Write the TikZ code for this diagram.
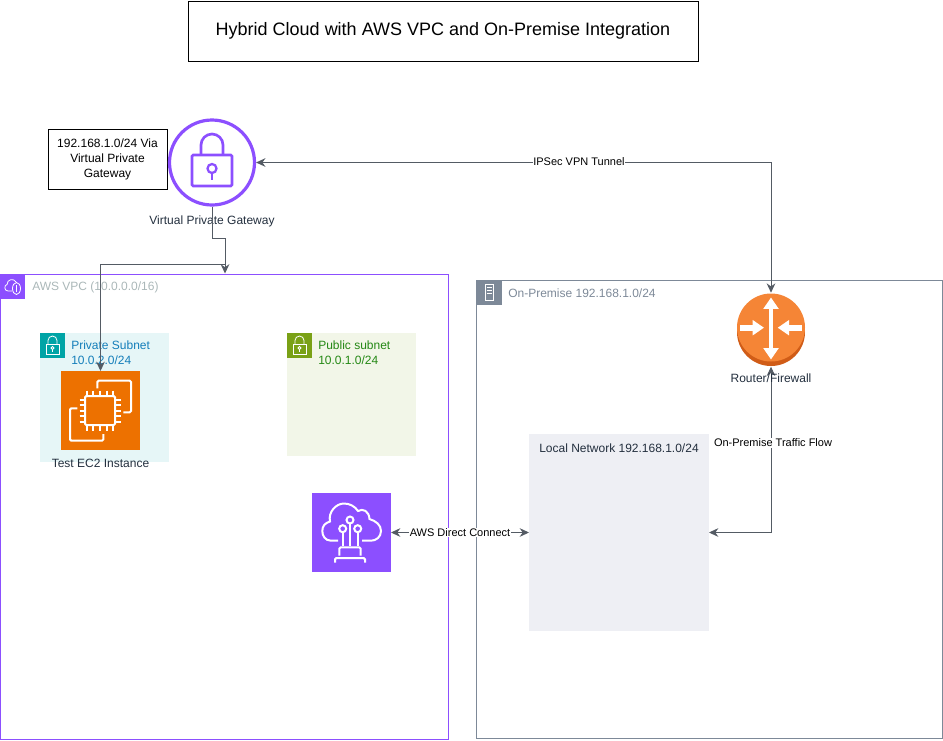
\documentclass[tikz,border=0pt]{standalone}
\usepackage{fontspec}
\setmainfont{Liberation Sans}
\usetikzlibrary{arrows.meta}
\definecolor{awspurple}{HTML}{8C4FFF}
\definecolor{awsink}{HTML}{232F3E}
\definecolor{linkgray}{HTML}{545B64}
\definecolor{vpctext}{HTML}{AAB7B8}
\definecolor{premgray}{HTML}{7D8998}
\definecolor{privfill}{HTML}{E6F6F7}
\definecolor{pubfill}{HTML}{F2F6E8}
\definecolor{localfill}{HTML}{EEEFF4}
\definecolor{ecorange}{HTML}{ED7100}
\definecolor{privteal}{HTML}{00A4A6}
\definecolor{privtext}{HTML}{147EBA}
\definecolor{pubgreen}{HTML}{7AA116}
\definecolor{pubtext}{HTML}{248814}
\definecolor{routerlight}{HTML}{F58536}
\definecolor{routerdark}{HTML}{D05C17}
\tikzset{
  sized/.style 2 args={minimum width=#1*0.75pt, minimum height=#2*0.75pt, inner sep=0pt, outer sep=0pt},
  textbox/.style={draw=black, line width=0.75pt, align=center, font=\fontsize{9pt}{11.25pt}\selectfont},
  lbl/.style={font=\fontsize{9pt}{11.25pt}\selectfont, text=awsink, align=left, inner sep=0pt},
  edgelbl/.style={font=\fontsize{8.25pt}{10pt}\selectfont, text=black, fill=white, inner sep=0.4pt},
  link/.style={draw=linkgray, line width=0.75pt, -{Stealth[length=7pt,width=6.5pt]}},
  duallink/.style={link, {Stealth[length=7pt,width=6.5pt]}-{Stealth[length=7pt,width=6.5pt]}},
  glyph/.style={draw=white, line width=1.5pt, rounded corners=1pt},
  smallglyph/.style={draw=white, line width=0.6pt},
  routerarrow/.style={draw=white, {Triangle[length=8.5pt,width=11pt]}-{Triangle[length=8.5pt,width=11pt]}},
  routerpush/.style={draw=white, -{Triangle[length=8.5pt,width=11pt]}}
}
\begin{document}
\begin{tikzpicture}[x=0.75pt, y=-0.75pt]
  \useasboundingbox (0, 0) rectangle (943, 740);
  % title and note
  \node (title) [textbox, sized={510}{60}, font=\fontsize{13.5pt}{16pt}\selectfont] at (443, 31) {Hybrid Cloud with AWS VPC and On-Premise Integration};
  \node (note) [textbox, sized={119}{60}] at (107.5, 159) {192.168.1.0/24 Via\\Virtual Private\\Gateway};
  % groups
  \node (vpc) [draw=awspurple, line width=0.75pt, sized={448}{465}] at (224.5, 506.5) {};
  \node (onprem) [draw=premgray, line width=0.75pt, sized={465.5}{458}] at (709.5, 509) {};
  \node (vpcicon) [fill=awspurple, sized={25}{25}] at (12.5, 286.5) {};
  \node (onpremicon) [fill=premgray, sized={25}{25}] at (489, 292) {};
  \node (vpclabel) [lbl, text=vpctext, anchor=west] at (32, 287) {AWS VPC (10.0.0.0/16)};
  \node (onpremlabel) [lbl, text=premgray, anchor=west] at (508, 293) {On-Premise 192.168.1.0/24};
  \node (privsubnet) [fill=privfill, sized={129}{129}] at (104.5, 397.5) {};
  \node (pubsubnet) [fill=pubfill, sized={129}{123}] at (351.5, 394.5) {};
  \node (localnet) [fill=localfill, sized={180}{197}] at (619, 532.5) {};
  \node (localabel) [lbl, anchor=west] at (539, 448) {Local Network 192.168.1.0/24};
  \node (privicon) [fill=privteal, sized={25}{25}] at (52.5, 345) {};
  \node (pubicon) [fill=pubgreen, sized={25}{25}] at (299.5, 345) {};
  \node (privlabel) [lbl, text=privtext, anchor=west] at (71, 352.5) {Private Subnet\\10.0.2.0/24};
  \node (publabel) [lbl, text=pubtext, anchor=west] at (318, 352.5) {Public subnet\\10.0.1.0/24};
  % small icons
  \foreach \ix in {40, 287} {
    \begin{scope}[shift={(\ix, 333)}]
      \draw[smallglyph] (6, 11) rectangle (19, 21);
      \draw[smallglyph] (8, 11) -- (8, 7.5) arc (180:360:4.5) -- (17, 11);
      \draw[smallglyph] (12.5, 15) circle (1.5);
      \draw[smallglyph] (12.5, 16.5) -- (12.5, 19);
    \end{scope}
  }
  \draw[smallglyph] (12, 291) -- (8, 291) .. controls (4, 291) and (4, 285) .. (7, 284.5) .. controls (7, 279) and (14, 278) .. (16, 282);
  \draw[smallglyph] (16.5, 288.5) ellipse (4 and 6);
  \draw[smallglyph] (16.5, 285) -- (16.5, 292);
  \draw[smallglyph] (485, 284) rectangle (493.5, 300.5);
  \foreach \iy in {287, 290, 293} {
    \draw[smallglyph] (486.5, \iy) -- (492, \iy);
  }
  % EC2
  \node (ec2) [fill=ecorange, sized={79}{79}] at (100.5, 410.5) {};
  \draw[glyph] (85, 396) rectangle (115, 425);
  \foreach \ip in {86.7, 93.3, 100, 106.7, 113.3} {
    \draw[glyph, rounded corners=0pt] (\ip, 390.5) -- (\ip, 396);
    \draw[glyph, rounded corners=0pt] (\ip, 425) -- (\ip, 431);
  }
  \foreach \ip in {399.5, 405, 410.5, 416, 421.5} {
    \draw[glyph, rounded corners=0pt] (79.5, \ip) -- (85, \ip);
    \draw[glyph, rounded corners=0pt] (115, \ip) -- (120.5, \ip);
  }
  \draw[glyph] (97.3, 388.3) -- (97.3, 380.7) -- (131, 380.7) -- (131, 412.3) -- (123.3, 412.3);
  \draw[glyph] (77.3, 408.3) -- (70, 408.3) -- (70, 440.7) -- (103.3, 440.7) -- (103.3, 434);
  \node (ec2label) [lbl] at (100.5, 463) {Test EC2 Instance};
  % direct connect
  \node (dxicon) [fill=awspurple, sized={79}{79}] at (351.5, 532.5) {};
  \draw[glyph, rounded corners=0pt] (338, 540.7) -- (331, 540.7) .. controls (325, 540.7) and (322.3, 535.5) .. (322.3, 531) .. controls (322.3, 526) and (325, 523) .. (330, 521.5) .. controls (328, 512) and (336, 503.5) .. (344, 503.5) .. controls (350, 503.5) and (355, 506.5) .. (358, 511) .. controls (363, 508) and (369, 511) .. (369.5, 519) .. controls (376, 521) and (381, 525) .. (381, 531) .. controls (381, 537) and (376, 540.7) .. (371, 540.7) -- (362, 540.7);
  \foreach \cx/\cy in {350/520, 342.7/528.7, 357.7/528.7} {
    \draw[glyph] (\cx, \cy) circle (3.5);
    \draw[glyph, rounded corners=0pt] (\cx, \cy+3.5) -- (\cx, 546);
  }
  \draw[glyph] (339.3, 555.7) -- (339.3, 547.3) -- (360.7, 547.3) -- (360.7, 555.7);
  \draw[glyph] (335, 562.7) -- (335, 558) -- (365, 558) -- (365, 562.7);
  % gateway
  \node (vpg) [circle, draw=awspurple, line width=2.4pt, sized={85}{85}, outer sep=1.2pt] at (212, 162.5) {};
  \draw[draw=awspurple, line width=2pt, rounded corners=1pt] (192, 155) rectangle (232, 186);
  \draw[draw=awspurple, line width=2pt] (201, 155) -- (201, 145) arc (180:360:11) -- (223, 155);
  \draw[draw=awspurple, line width=1.7pt] (212, 168.5) circle (4.5);
  \draw[draw=awspurple, line width=1.7pt] (212, 173) -- (212, 180);
  \node (vpglabel) [lbl] at (212, 221) {Virtual Private Gateway};
  % router
  \fill[routerdark] (771, 332) circle (34);
  \fill[routerlight] (771, 327.5) circle (34);
  \node (router) [circle, sized={74}{74}] at (771, 329.7) {};
  \draw[routerarrow, line width=2.8pt] (771, 297.5) -- (771, 359.5);
  \draw[routerpush, line width=4.5pt] (740, 327.7) -- (764, 327.7);
  \draw[routerpush, line width=4.5pt] (801.7, 327.7) -- (777.7, 327.7);
  % connectors
  \coordinate (vpcin) at (225, 273.5);
  \coordinate (vpcjoin) at (225, 264);
  \draw[link] (vpg.south) -- ++(0, 32) -| (vpcin);
  \draw[link] (vpcjoin) -| (ec2.north);
  \draw[duallink] (vpg.east) -| (router.north);
  \draw[duallink] (dxicon.east) -- (localnet.west);
  \draw[duallink] (router.south) |- (localnet.east);
  \node (routerlabel) [lbl] at (771, 378) {Router/Firewall};
  \node (ipseclabel) [edgelbl] at (579, 162) {IPSec VPN Tunnel};
  \node (dxlabel) [edgelbl] at (460, 532.5) {AWS Direct Connect};
  \node (flowlabel) [edgelbl] at (773, 443) {On-Premise Traffic Flow};
\end{tikzpicture}
\end{document}
